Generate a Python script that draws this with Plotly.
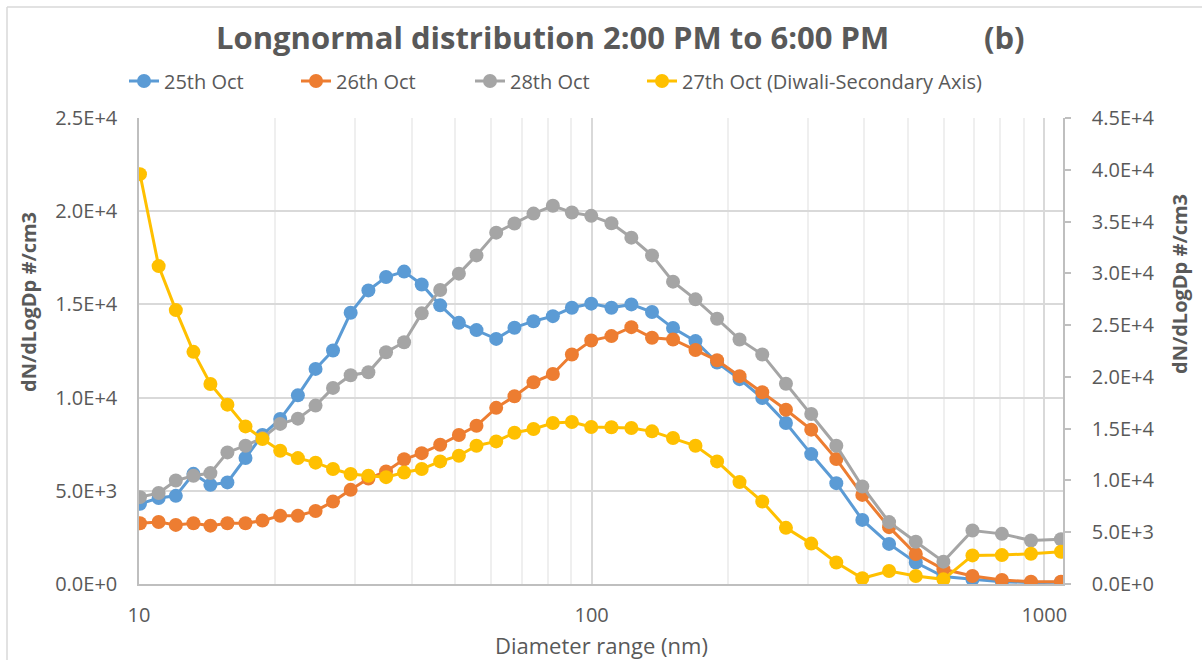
import plotly.graph_objects as go

# Diameter bins (nm)
diameter = [10.05, 11.05, 12.06, 13.19, 14.38, 15.68, 17.19, 18.74, 20.51, 22.44,
            24.55, 26.83, 29.35, 32.12, 35.14, 38.52, 42.13, 46.28, 50.9, 55.67,
            61.54, 67.54, 74.4, 82.1, 90.45, 99.8, 110.6, 122.4, 135.96, 151.3,
            169.6, 189.3, 212.2, 238.2, 268.7, 305.6, 347.2, 396.3, 454.1, 520.2,
            598.7, 694.0, 806.2, 934.6, 1088.6]

oct25 = [4300, 4610, 4730, 5910, 5320, 5450, 6760, 8000, 8850, 10120,
         11540, 12530, 14550, 15750, 16470, 16760, 16070, 14950, 14010, 13620,
         13150, 13750, 14100, 14370, 14820, 15040, 14820, 15000, 14590, 13730,
         13030, 11880, 10990, 9980, 8640, 6970, 5410, 3440, 2150, 1150,
         400, 250, 120, 80, 100]

oct26 = [3260, 3330, 3170, 3260, 3130, 3260, 3260, 3400, 3660, 3660,
         3920, 4420, 5050, 5660, 6040, 6690, 7020, 7470, 7990, 8490,
         9450, 10070, 10820, 11270, 12310, 13060, 13300, 13780, 13210, 13120,
         12550, 12000, 11150, 10290, 9350, 8280, 6700, 4780, 3050, 1610,
         790, 430, 215, 125, 125]

oct28 = [4660, 4880, 5550, 5810, 5950, 7060, 7420, 7830, 8590, 8870,
         9570, 10520, 11200, 11360, 12430, 12970, 14520, 15770, 16650, 17630,
         18850, 19340, 19870, 20290, 19930, 19750, 19350, 18580, 17630, 16220,
         15270, 14230, 13120, 12310, 10740, 9120, 7420, 5230, 3320, 2270,
         1200, 2870, 2690, 2330, 2400]

oct27 = [39580, 30700, 26450, 22420, 19320, 17320, 15220, 14000, 12870, 12160,
         11720, 11100, 10620, 10450, 10320, 10770, 11100, 11840, 12390, 13350,
         13770, 14610, 14970, 15550, 15650, 15160, 15130, 15060, 14740, 14100,
         13350, 11840, 9840, 7960, 5420, 3900, 2080, 550, 1260, 770,
         450, 2760, 2790, 2920, 3110]

series_names = ["25th Oct", "26th Oct", "28th Oct", "27th Oct (Diwali-Secondary Axis)"]
series_colors = ["#5B9BD5", "#ED7D31", "#A5A5A5", "#FFC000"]

left_ticks = [0, 5000, 10000, 15000, 20000, 25000]
left_labels = ["0.0E+0", "5.0E+3", "1.0E+4", "1.5E+4", "2.0E+4", "2.5E+4"]
right_ticks = [0, 5000, 10000, 15000, 20000, 25000, 30000, 35000, 40000, 45000]
right_labels = ["0.0E+0", "5.0E+3", "1.0E+4", "1.5E+4", "2.0E+4", "2.5E+4",
                "3.0E+4", "3.5E+4", "4.0E+4", "4.5E+4"]
x_ticks = [10, 100, 1000]
x_labels = ["10", "100", "1000"]
x_minor = [k * 10 ** e for e in (1, 2) for k in range(2, 10)]

FONT = "Open Sans, Lato, sans-serif"
TXT = "#595959"
W, H = 1202, 660
L, R, T, B = 139, 139, 118, 76
PW, PH = W - L - R, H - T - B

# legend text start positions (px) in the reference
legend_text_x = [166, 338, 512, 684]
legend_names = ["legend", "legend2", "legend3", "legend4"]

fig = go.Figure()
all_vals = [oct25, oct26, oct28, oct27]
for i, (name, vals, col) in enumerate(zip(series_names, all_vals, series_colors)):
    fig.add_trace(go.Scatter(x=diameter, y=vals, name=name, mode="lines+markers",
                             line=dict(color=col, width=3),
                             marker=dict(color=col, size=14),
                             yaxis="y2" if i == 3 else "y",
                             legend=legend_names[i]))

legend_common = dict(orientation="h", xref="container", yref="container",
                     yanchor="middle", y=1 - 81 / H, xanchor="left",
                     font=dict(size=20, color=TXT, family=FONT),
                     bgcolor="rgba(0,0,0,0)", borderwidth=0)
legends = {}
for ln, tx in zip(legend_names, legend_text_x):
    legends[ln] = dict(legend_common, x=(tx - 42) / W)

fig.update_layout(
    width=W, height=H,
    margin=dict(l=L, r=R, t=T, b=B, autoexpand=False),
    paper_bgcolor="white", plot_bgcolor="white",
    font=dict(family=FONT, color=TXT, size=20),
    showlegend=True,
    **legends,
    xaxis=dict(type="log", range=[1, 3.0414], tickvals=x_ticks, ticktext=x_labels,
               showgrid=True, gridcolor="#D9D9D9", gridwidth=1.5,
               minor=dict(tickvals=x_minor, showgrid=True, gridcolor="#EFEFEF", gridwidth=1.5, ticks=""),
               showline=True, linecolor="#BFBFBF", linewidth=1.5, ticks="",
               ticklabelstandoff=12, automargin=False,
               tickfont=dict(size=20, color=TXT),
               zeroline=False),
    yaxis=dict(range=[0, 25000], tickvals=left_ticks, ticktext=left_labels,
               showgrid=True, gridcolor="#D9D9D9", gridwidth=1.5,
               showline=True, linecolor="#BFBFBF", linewidth=1.5, ticks="",
               ticklabelstandoff=16, automargin=False,
               tickfont=dict(size=20, color=TXT),
               zeroline=False),
    yaxis2=dict(range=[0, 45000], tickvals=right_ticks, ticktext=right_labels,
                overlaying="y", side="right", showgrid=False,
                showline=True, linecolor="#BFBFBF", linewidth=1.5,
                ticks="outside", ticklen=6, tickcolor="#BFBFBF", tickwidth=1.5,
                ticklabelstandoff=17, automargin=False,
                tickfont=dict(size=20, color=TXT),
                zeroline=False),
)

def px_x(px):
    return (px - L) / PW

def px_y(py):
    return (H - B - py) / PH

# Title
fig.add_annotation(text="<b>Longnormal distribution 2:00 PM to 6:00 PM</b>",
                   xref="paper", yref="paper", x=px_x(552), y=px_y(37),
                   xanchor="center", yanchor="middle", showarrow=False,
                   font=dict(size=31, color=TXT, family=FONT))
fig.add_annotation(text="<b>(b)</b>",
                   xref="paper", yref="paper", x=px_x(1004), y=px_y(37),
                   xanchor="center", yanchor="middle", showarrow=False,
                   font=dict(size=31, color=TXT, family=FONT))
# Axis titles
fig.add_annotation(text="Diameter range (nm)",
                   xref="paper", yref="paper", x=px_x(601), y=px_y(645),
                   xanchor="center", yanchor="middle", showarrow=False,
                   font=dict(size=22, color=TXT, family=FONT))
fig.add_annotation(text="<b>dN/dLogDp #/cm3</b>", textangle=-90,
                   xref="paper", yref="paper", x=px_x(28), y=px_y(302),
                   xanchor="center", yanchor="middle", showarrow=False,
                   font=dict(size=20, color=TXT, family=FONT))
fig.add_annotation(text="<b>dN/dLogDp #/cm3</b>", textangle=-90,
                   xref="paper", yref="paper", x=px_x(1179), y=px_y(284),
                   xanchor="center", yanchor="middle", showarrow=False,
                   font=dict(size=20, color=TXT, family=FONT))

# chart border (top and left visible in reference)
fig.add_shape(type="line", xref="paper", yref="paper",
              x0=px_x(7), x1=px_x(1210), y0=px_y(7), y1=px_y(7),
              line=dict(color="#D9D9D9", width=1.5))
fig.add_shape(type="line", xref="paper", yref="paper",
              x0=px_x(7), x1=px_x(7), y0=px_y(7), y1=px_y(670),
              line=dict(color="#D9D9D9", width=1.5))

fig.write_html("out.html", config={"displayModeBar": False},
               post_script="document.body.style.margin='0';document.body.style.overflow='hidden';")
